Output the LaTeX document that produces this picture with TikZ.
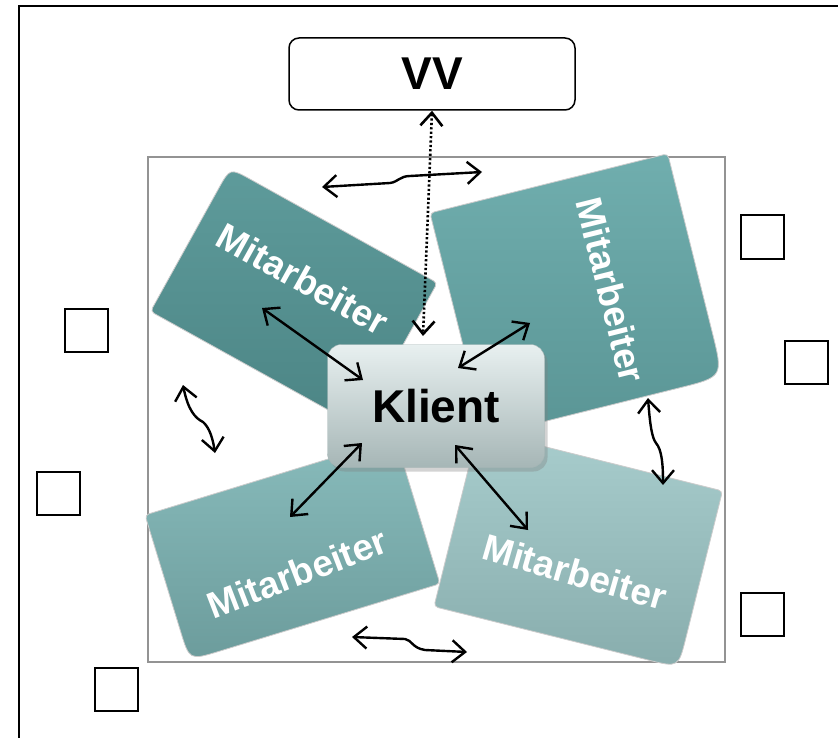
\documentclass[tikz,border=0pt]{standalone}
\usepackage{fontspec}
\setmainfont{Liberation Sans}
\usepackage{tikz}
\usetikzlibrary{arrows.meta, shadows}
\definecolor{kltop}{HTML}{E8F0F0}
\definecolor{klbot}{HTML}{A6B6B6}
\definecolor{tltop}{HTML}{5E9B9B}
\definecolor{tlbot}{HTML}{4C8585}
\definecolor{trtop}{HTML}{70AEAE}
\definecolor{trbot}{HTML}{5A9595}
\definecolor{bltop}{HTML}{88BBBB}
\definecolor{blbot}{HTML}{6C9C9C}
\definecolor{brtop}{HTML}{A8CDCD}
\definecolor{brbot}{HTML}{88ADAD}
\tikzstyle{client} = [rectangle, rounded corners=14pt, minimum width=217pt, minimum height=123pt, text centered, top color=kltop, bottom color=klbot, draw=klbot, drop shadow={opacity=0.35, shadow xshift=3pt, shadow yshift=-4pt}, font=\fontsize{46}{50}\selectfont\bfseries]
\tikzstyle{office} = [rectangle, rounded corners=10pt, minimum width=286pt, minimum height=72pt, text centered, draw=black, line width=1.5pt, fill=white, font=\fontsize{46}{50}\selectfont\bfseries]
\tikzstyle{card} = [rounded corners=4pt, draw=white!60!gray, line width=0.8pt]
\tikzstyle{worker} = [text=white, font=\fontsize{37}{40}\selectfont\bfseries]
\tikzstyle{seat} = [rectangle, draw=black, line width=2pt, minimum size=43pt, inner sep=0pt]
\tikzstyle{arrow} = [line width=2.4pt, <->, >={Straight Barb[length=13pt,width=22pt]}]
\tikzstyle{dotarrow} = [arrow, line width=2.6pt, dash pattern=on 2.2pt off 2.2pt]

\begin{document}
\begin{tikzpicture}[x=1pt, y=-1pt]
		\useasboundingbox (0,0) rectangle (838,738);
		\draw [gray!85, line width=2pt] (148,157) rectangle (725,662);
		
		% cards
		\begin{scope}[shift={(230,168)}, rotate=-29]
		\draw [card, top color=tltop, bottom color=tlbot] (120,0) -- (237,0) -- (237,164) -- (0,164) -- (0,28) .. controls (0,0) .. (28,0) -- cycle;
		\end{scope}
		\begin{scope}[shift={(430,213)}, rotate=14]
		\draw [card, top color=trtop, bottom color=trbot] (0,0) -- (245,0) -- (245,180) .. controls (245,230) .. (195,230) -- (0,230) -- cycle;
		\end{scope}
		\begin{scope}[shift={(145,515)}, rotate=17]
		\draw [card, top color=bltop, bottom color=blbot] (0,0) -- (262,0) -- (262,152) -- (35,152) .. controls (0,152) .. (0,117) -- cycle;
		\end{scope}
		\begin{scope}[shift={(478,430)}, rotate=-14]
		\draw [card, top color=brtop, bottom color=brbot] (0,0) -- (252,0) -- (252,147) .. controls (252,182) .. (217,182) -- (0,182) -- cycle;
		\end{scope}
		
		\node (ma1) [worker, rotate=-29] at (303,279) {Mitarbeiter};
		\node (ma2) [worker, rotate=-76] at (611,290) {Mitarbeiter};
		\node (ma3) [worker, rotate=21] at (297,573) {Mitarbeiter};
		\node (ma4) [worker, rotate=-16] at (575,572) {Mitarbeiter};
		
		\node (klient) [client] at (436,406) {Klient};
		\node (vv) [office] at (432,74) {VV};
		
		\node (s1) [seat] at (762,237) {};
		\node (s2) [seat] at (806,362) {};
		\node (s3) [seat] at (86,330) {};
		\node (s4) [seat] at (58,493) {};
		\node (s5) [seat] at (762,614) {};
		\node (s6) [seat] at (116,689) {};
		
		\coordinate (k0) at (423,336);
		\coordinate (k1) at (363,380);
		\coordinate (m1) at (262,308);
		\coordinate (k2) at (458,368);
		\coordinate (m2) at (530,323);
		\coordinate (k3) at (362,443);
		\coordinate (m3) at (290,517);
		\coordinate (k4) at (455,445);
		\coordinate (m4) at (528,530);
		\coordinate (w1a) at (322,187);
		\coordinate (w1b) at (482,172);
		\coordinate (w2a) at (352,637);
		\coordinate (w2b) at (467,652);
		\coordinate (w3a) at (183,385);
		\coordinate (w3b) at (215,453);
		\coordinate (w4a) at (648,398);
		\coordinate (w4b) at (663,485);
		
		\draw [dotarrow] (vv.south) -- (k0);
		\draw [arrow] (m1) -- (k1);
		\draw [arrow] (m2) -- (k2);
		\draw [arrow] (m3) -- (k3);
		\draw [arrow] (m4) -- (k4);
		\draw [arrow] (w1a) -- (390,183) .. controls (398,182) and (400,176) .. (410,176) -- (w1b);
		\draw [arrow] (w2a) -- (405,639) .. controls (412,640) and (412,648) .. (425,650) -- (w2b);
		\draw [arrow] (w3a) .. controls (188,410) and (195,418) .. (203,422) .. controls (210,428) and (213,440) .. (w3b);
		\draw [arrow] (w4a) .. controls (650,425) and (652,438) .. (656,443) .. controls (662,450) and (663,465) .. (w4b);
		
		\draw [line width=2.5pt] (19,738) -- (19,6) -- (838,6);
		\end{tikzpicture}
\end{document}
